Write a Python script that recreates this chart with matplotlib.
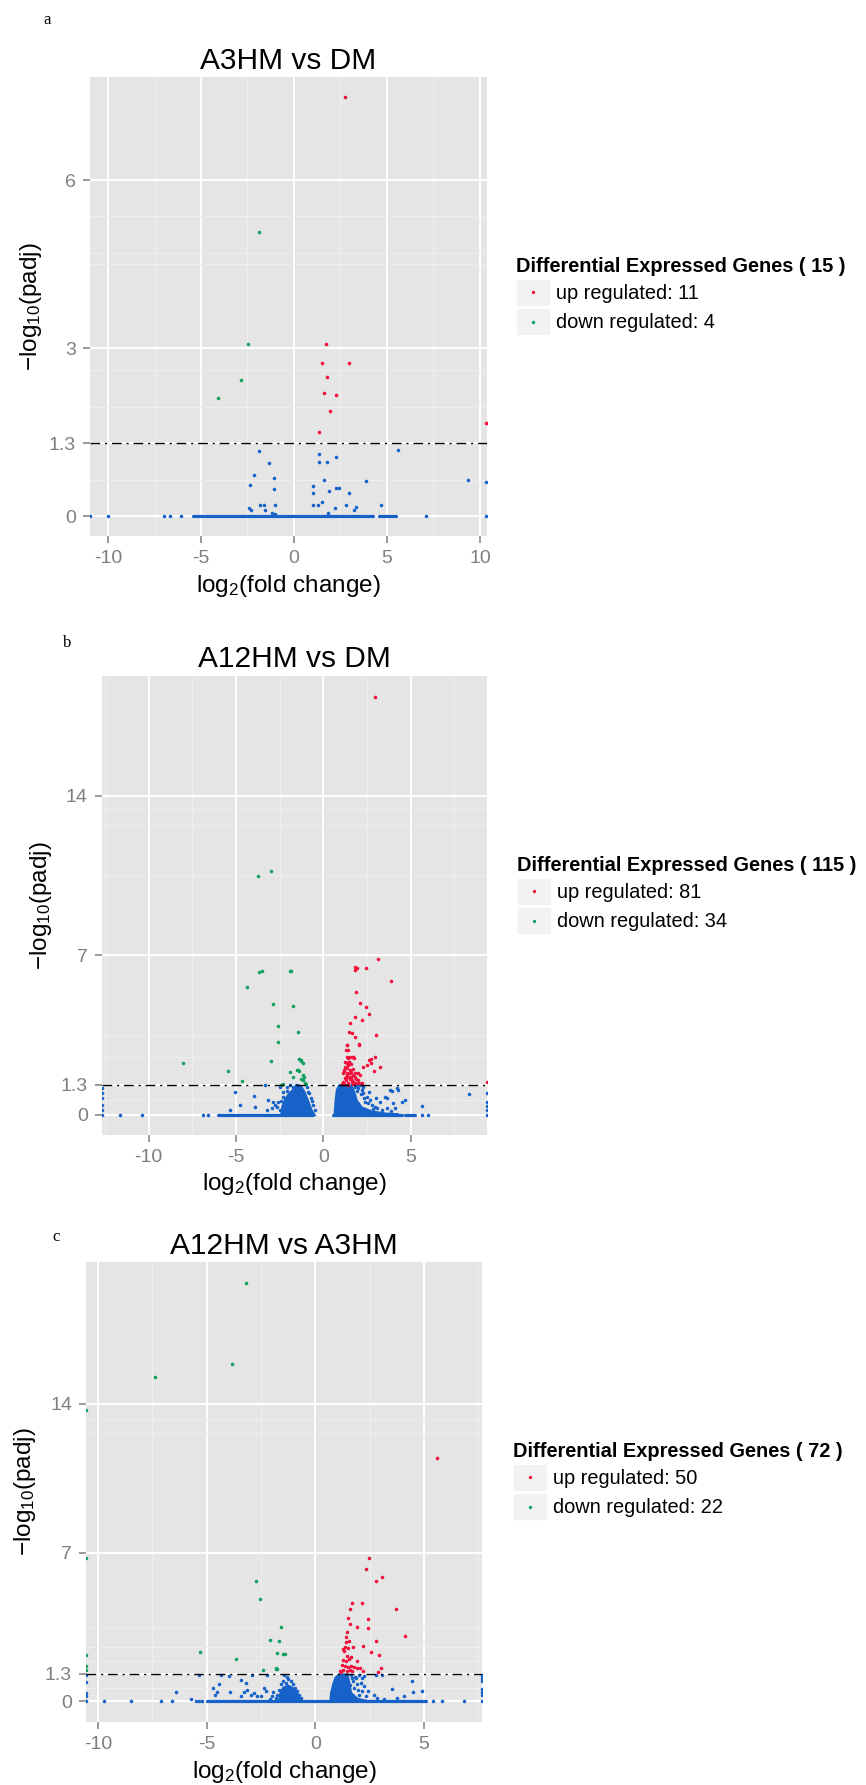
import matplotlib
matplotlib.use("Agg")

import matplotlib.pyplot as plt
from matplotlib.legend_handler import HandlerBase
from matplotlib.patches import Rectangle
from matplotlib.lines import Line2D

plt.rcParams.update({
    "font.family": "Liberation Sans",
    "mathtext.fontset": "custom",
    "mathtext.rm": "Liberation Sans",
    "mathtext.it": "Liberation Sans:italic",
    "mathtext.bf": "Liberation Sans:bold",
    "axes.unicode_minus": False,
})

RED = "#F0103C"
GREEN = "#12A060"
BLUE = "#1662C8"

# ===================== data: panel a (A3HM vs DM) =====================
a_up_x = [2.74, 1.74, 1.50, 2.94, 1.75, 1.63, 2.28, 1.94, 1.36, 10.32, 10.36]
a_up_y = [7.48, 3.08, 2.74, 2.74, 2.48, 2.19, 2.17, 1.88, 1.50, 1.67, 1.67]
a_down_x = [-1.88, -2.47, -2.87, -4.07]
a_down_y = [5.07, 3.08, 2.43, 2.10]
a_ns_x = [-1.86, -1.33, -2.15, -2.35, -1.08, -1.08, -2.40, -2.33, -1.85, -1.62,
          -1.55, -1.17, -1.03, -1.00, 1.36, 1.33, 1.76, 2.26, 1.63, 1.04,
          1.04, 1.89, 2.26, 2.40, 2.95, 3.85, 1.00, 1.29, 1.50, 2.22,
          2.80, 3.25, 3.35, 1.85, 4.70, 5.57, 9.37, 10.32]
a_ns_y = [1.16, 0.94, 0.73, 0.56, 0.68, 0.48, 0.15, 0.10, 0.20, 0.20,
          0.10, 0.05, 0.19, 0.03, 1.10, 0.96, 0.96, 1.06, 0.64, 0.53,
          0.41, 0.45, 0.50, 0.51, 0.41, 0.63, 0.19, 0.19, 0.25, 0.15,
          0.20, 0.10, 0.17, 0.05, 0.19, 1.18, 0.65, 0.61]
a_zero_x = [-10.97, -10.0, -6.97, -6.67, -6.09, 7.08, 10.32]
a_band_lo = [-5.45, -4.78, 4.59]
a_band_hi = [-4.88, 4.27, 5.48]
a_core_x = []
a_core_y = []
a_core2_x = []
a_core2_y = []

# ===================== data: panel b (A12HM vs DM) =====================
b_up_x = [2.96, 3.13, 1.83, 1.91, 1.80, 2.44, 3.88, 1.89, 2.10, 2.46,
          2.60, 1.80, 2.20, 1.53, 1.49, 1.62, 3.00, 1.80, 1.37, 2.04,
          1.30, 1.42, 1.34, 1.53, 1.72, 2.71, 2.96, 1.43, 1.68, 1.76,
          1.24, 1.34, 1.43, 1.15, 1.34, 1.53, 1.72, 1.24, 1.53, 1.81,
          1.11, 1.43, 1.72, 2.00, 2.20, 2.29, 2.48, 2.71, 2.63, 3.25,
          2.90, 2.10, 2.00, 9.35, 1.18, 1.57, 1.30, 1.62, 1.87, 1.43,
          1.05, 1.72, 2.06, 1.49, 1.34, 1.68, 1.37, 1.81, 1.20, 1.30,
          1.40, 1.60, 1.65, 1.90, 1.25, 1.45, 1.60, 1.18, 1.55, 2.06,
          1.37]
b_up_y = [18.34, 6.83, 6.48, 6.45, 6.34, 6.45, 5.86, 5.37, 4.91, 4.71,
          4.40, 4.28, 4.15, 4.02, 3.62, 3.58, 3.51, 3.39, 3.07, 3.07,
          2.83, 2.83, 2.51, 2.51, 2.51, 2.44, 2.51, 2.47, 2.54, 2.47,
          2.10, 2.03, 2.18, 1.81, 1.74, 1.81, 1.74, 1.59, 1.55, 1.66,
          1.44, 1.40, 1.44, 1.52, 1.37, 2.10, 2.18, 2.25, 2.40, 2.10,
          1.93, 1.74, 1.81, 1.42, 1.93, 1.88, 1.66, 1.52, 1.55, 1.30,
          1.34, 1.34, 1.40, 2.32, 2.25, 1.99, 1.81, 1.84, 1.35, 1.50,
          1.65, 1.65, 1.45, 1.40, 2.30, 2.30, 2.20, 1.95, 1.95, 3.08,
          3.05]
b_down_x = [-3.75, -3.01, -3.66, -3.53, -1.91, -1.85, -4.35, -2.90, -1.72, -2.61,
            -1.47, -2.58, -1.37, -8.03, -5.44, -4.64, -2.99, -2.44, -1.89, -1.49,
            -1.37, -1.39, -1.28, -1.18, -1.72, -1.18, -1.10, -1.05, -0.99, -1.30,
            -1.25, -2.30, -1.15, -1.42]
b_down_y = [10.48, 10.69, 6.28, 6.31, 6.31, 6.31, 5.59, 4.87, 4.75, 3.89,
            3.62, 3.20, 2.44, 2.25, 1.91, 1.47, 2.34, 1.31, 1.87, 1.96,
            1.91, 2.43, 2.37, 2.28, 1.64, 1.74, 1.64, 1.40, 1.33, 2.40,
            1.55, 1.33, 1.50, 1.95]
b_ns_x = [-12.68, -12.68, -12.68, -12.68, -12.68, 9.39, 9.39, 9.39, 9.39, 8.36,
          -5.34, -4.77, -5.07, -3.97, -3.93, -3.34, -3.15, -2.86, -3.24, -2.95,
          -2.67, -2.48, -2.32, -2.29, -2.58, -2.76, -2.10, -1.91, -0.95, -0.86,
          -0.72, -0.57, -0.48, -2.19, -2.48, 1.81, 2.00, 2.20, 2.29, 2.48,
          2.67, 2.39, 2.77, 2.96, 3.25, 3.53, 3.82, 4.20, 4.29, 4.49,
          4.68, 4.01, 4.10, 3.63, 3.34, 3.86, 2.29, 2.10, 1.91, 5.63,
          3.92, 3.63, -2.40, -2.05, -1.75, -1.55, -0.80, -0.62, 1.95, 2.15,
          2.35, 2.55, 2.85, 3.10, 2.60, 3.00]
b_ns_y = [1.15, 0.93, 0.72, 0.42, 0.20, 0.93, 0.57, 0.37, 0.20, 0.89,
          0.20, 0.42, 1.00, 0.82, 0.32, 1.30, 0.64, 0.57, 0.20, 0.28,
          0.35, 1.22, 1.00, 0.79, 0.57, 0.42, 1.22, 1.30, 1.22, 1.00,
          0.72, 0.42, 0.20, 0.28, 0.20, 1.22, 1.15, 1.08, 0.93, 0.79,
          0.64, 0.57, 0.42, 0.35, 0.57, 0.79, 1.08, 1.15, 1.08, 0.57,
          0.64, 0.49, 0.28, 0.28, 0.20, 0.17, 1.22, 1.30, 1.30, 0.37,
          1.04, 0.72, 0.60, 1.05, 1.20, 1.30, 0.95, 0.60, 1.05, 0.90,
          0.75, 0.50, 0.25, 0.30, 1.00, 0.75]
b_zero_x = [-12.68, -11.64, -10.40, -6.87, -6.58, 5.63, 6.01, 9.39]
b_band_lo = [-6.01, 0.57, 4.68]
b_band_hi = [-0.57, 4.49, 5.25]
b_core_x = [-2.38, -2.32, -2.19, -2.00, -1.81, -1.62, -1.43, -1.28, -1.10, -0.95, -0.80, -0.66, -0.53]
b_core_y = [0.0, 0.35, 0.62, 0.85, 1.00, 1.15, 1.27, 1.22, 1.00, 0.72, 0.42, 0.15, 0.0]
b_core2_x = [0.67, 0.73, 0.80, 0.92, 1.60, 1.75, 1.90, 2.20, 2.80, 3.60, 4.30]
b_core2_y = [0.0, 0.64, 1.08, 1.27, 1.27, 1.00, 0.62, 0.30, 0.12, 0.03, 0.0]

# ===================== data: panel c (A12HM vs A3HM) =====================
c_up_x = [5.59, 2.46, 2.33, 2.79, 3.06, 3.71, 1.70, 2.16, 1.58, 2.44,
          2.43, 1.58, 1.93, 1.45, 1.41, 4.11, 2.78, 1.41, 1.36, 1.48,
          1.29, 1.75, 2.18, 2.58, 2.92, 1.25, 1.40, 1.55, 1.63, 1.93,
          1.22, 1.37, 1.52, 1.63, 1.78, 1.93, 2.06, 1.14, 1.29, 1.45,
          1.60, 3.01, 1.33, 1.45, 1.70, 1.20, 2.90, 1.55, 1.52, 2.20]
c_up_y = [11.44, 6.75, 6.24, 5.66, 5.84, 4.33, 4.62, 4.62, 4.34, 3.87,
          3.46, 3.66, 3.49, 3.27, 3.05, 3.07, 2.82, 2.77, 2.55, 2.50,
          2.46, 2.55, 2.61, 2.30, 2.20, 1.96, 1.92, 1.99, 2.08, 1.88,
          1.72, 1.67, 1.64, 1.67, 1.61, 1.57, 1.55, 1.45, 1.49, 1.41,
          1.49, 1.57, 2.35, 2.15, 1.45, 1.36, 1.40, 2.85, 3.90, 1.45]
c_down_x = [-3.19, -3.85, -7.38, -10.55, -10.55, -2.74, -2.54, -1.56, -2.08, -1.67,
            -1.75, -1.47, -1.38, -5.31, -3.65, -2.39, -1.82, -1.75, -10.55, -10.55,
            -10.55, -1.79]
c_down_y = [19.66, 15.89, 15.27, 13.70, 6.75, 5.68, 4.81, 3.49, 2.90, 2.86,
            2.27, 2.24, 2.25, 2.30, 2.00, 1.49, 1.52, 1.52, 2.19, 1.67,
            1.49, 1.55]
c_ns_x = [-10.55, -10.55, -10.55, -10.55, 7.68, 7.68, 7.68, 7.68, 7.68, 7.68,
          -6.43, -5.73, -5.35, -4.69, -4.43, -4.63, -4.51, -4.35, -3.96, -3.94,
          -3.43, -3.28, -3.13, -2.97, -2.82, -2.67, -2.90, -3.20, -2.36, -2.28,
          -2.51, -2.24, -3.43, -1.44, -1.32, -1.26, -1.50, -1.13, -1.01, -1.59,
          -1.36, -0.93, -0.83, -1.67, -1.75, -1.82, -0.75, -0.67, -2.00, -1.95,
          -2.10, 1.63, 1.81, 2.01, 2.16, 1.71, 1.91, 2.09, 2.24, 1.78,
          1.96, 2.16, 2.40, 2.01, 2.32, 2.70, 2.78, 3.08, 3.54, 4.46,
          4.51, 4.92, 4.08, 3.16, 2.85, 3.77, 1.86, 1.60, 2.25, 1.70]
c_ns_y = [1.25, 0.90, 0.39, 0.24, 1.25, 1.10, 0.95, 0.60, 0.45, 0.30,
          0.44, 0.12, 1.25, 0.65, 0.83, 0.31, 0.42, 1.25, 1.20, 0.42,
          0.23, 0.42, 0.55, 0.31, 0.39, 0.23, 1.25, 0.86, 0.63, 0.47,
          0.23, 1.25, 1.02, 1.25, 1.17, 1.05, 0.98, 0.94, 0.83, 0.83,
          0.86, 0.63, 0.47, 0.55, 0.31, 0.16, 0.31, 0.16, 0.23, 0.42,
          0.12, 1.25, 1.17, 1.25, 1.10, 0.94, 0.83, 0.86, 0.70, 0.63,
          0.55, 0.47, 0.47, 0.31, 0.26, 0.31, 1.25, 1.25, 0.58, 0.94,
          0.42, 0.51, 0.23, 0.11, 0.16, 0.16, 1.10, 0.78, 1.20, 1.10]
c_zero_x = [-10.55, -9.72, -8.47, -7.09, -6.58, -5.50, -5.35, -5.20, 5.43, 5.82, 6.84, 7.68]
c_band_lo = [-5.00]
c_band_hi = [5.08]
c_core_x = [-1.67, -1.59, -1.47, -1.26, -1.06, -0.86, -0.67]
c_core_y = [0.0, 0.39, 0.63, 0.73, 0.63, 0.39, 0.0]
c_core2_x = [0.71, 0.74, 0.83, 0.94, 1.09, 1.47, 1.55, 1.63, 1.93, 2.40]
c_core2_y = [0.0, 0.39, 0.78, 1.10, 1.25, 1.25, 0.86, 0.39, 0.11, 0.0]

titles = ["A3HM vs DM", "A12HM vs DM", "A12HM vs A3HM"]
n_up = [11, 81, 50]
n_down = [4, 34, 22]

# ===================== panel setup =====================
W, H = 866, 1785

panels = [
    dict(letter="a", title=titles[0], up=(a_up_x, a_up_y), down=(a_down_x, a_down_y),
         ns=(a_ns_x, a_ns_y), zero=a_zero_x, band=(a_band_lo, a_band_hi),
         cores=[(a_core_x, a_core_y), (a_core2_x, a_core2_y)],
         xlim=(-10.97, 10.38), ylim=(-0.363, 7.84),
         xticks=[-10, -5, 0, 5, 10], yticks=[0, 1.3, 3, 6],
         xminor=[-7.5, -2.5, 2.5, 7.5], yminor=[0.65, 1.95, 2.6, 4.5, 4.7, 5.35],
         box=(90, 77, 487, 536.4), ylab_px=31, letter_px=(47, 20), legend_px=(516, 257)),
    dict(letter="b", title=titles[1], up=(b_up_x, b_up_y), down=(b_down_x, b_down_y),
         ns=(b_ns_x, b_ns_y), zero=b_zero_x, band=(b_band_lo, b_band_hi),
         cores=[(b_core_x, b_core_y), (b_core2_x, b_core2_y)],
         xlim=(-12.68, 9.39), ylim=(-0.89, 19.26),
         xticks=[-10, -5, 0, 5], yticks=[0, 1.3, 7, 14],
         xminor=[-12.5, -7.5, -2.5, 2.5, 7.5], yminor=[0.62, 2.54, 3.49, 10.53, 12.7, 13.4],
         box=(101.7, 675.7, 487.3, 1134.9), ylab_px=41, letter_px=(67, 643), legend_px=(517, 856)),
    dict(letter="c", title=titles[2], up=(c_up_x, c_up_y), down=(c_down_x, c_down_y),
         ns=(c_ns_x, c_ns_y), zero=c_zero_x, band=(c_band_lo, c_band_hi),
         cores=[(c_core_x, c_core_y), (c_core2_x, c_core2_y)],
         xlim=(-10.55, 7.68), ylim=(-0.97, 20.66),
         xticks=[-10, -5, 0, 5], yticks=[0, 1.3, 7, 14],
         xminor=[-7.5, -2.5, 2.5, 7.5], yminor=[0.62, 1.92, 2.55, 3.49, 12.64, 13.28],
         box=(86, 1262.2, 482.3, 1722), ylab_px=25, letter_px=(56, 1237), legend_px=(513, 1442)),
]


class KeyHandler(HandlerBase):
    # ggplot-like legend key: grey square with a small dot in the middle
    def create_artists(self, legend, orig_handle, xdescent, ydescent,
                       width, height, fontsize, trans):
        bg = Rectangle((-xdescent, -ydescent), width, height,
                       facecolor="#F2F2F2", edgecolor="white", lw=0.6,
                       transform=trans)
        dot = Line2D([-xdescent + width / 2], [-ydescent + height / 2],
                     marker="o", ms=2.4, mew=0, color=orig_handle.get_color(),
                     ls="none", transform=trans)
        return [bg, dot]


def volcano(fig, p, i):
    x0, y0, x1, y1 = p["box"]
    ax = fig.add_axes([x0 / W, 1 - y1 / H, (x1 - x0) / W, (y1 - y0) / H])
    ax.set_facecolor("#E5E5E5")
    for s in ax.spines.values():
        s.set_visible(False)

    ax.set_xlim(p["xlim"])
    ax.set_ylim(p["ylim"])
    ax.set_xticks(p["xticks"])
    ax.set_xticklabels([str(t) for t in p["xticks"]])
    ax.set_yticks(p["yticks"])
    ax.set_yticklabels([f"{t:g}" for t in p["yticks"]])
    ax.set_xticks(p["xminor"], minor=True)
    ax.set_yticks(p["yminor"], minor=True)
    ax.grid(True, which="major", color="white", lw=1.4)
    ax.grid(True, which="minor", color="#F0F0F0", lw=0.6)
    ax.set_axisbelow(True)
    ax.tick_params(which="major", length=5, width=1.1, color="#7F7F7F",
                   labelcolor="#7F7F7F", labelsize=14, pad=5)
    ax.tick_params(which="minor", length=0)

    # dense not-significant genes
    for lo, hi in zip(*p["band"]):
        ax.plot([lo, hi], [0, 0], color=BLUE, lw=2.3, solid_capstyle="round", zorder=2)
    for cx, cy in p["cores"]:
        if cx:
            ax.fill(cx, cy, color=BLUE, lw=2.0, zorder=2)
    ax.scatter(p["zero"], [0] * len(p["zero"]), s=6.5, color=BLUE, linewidths=0, zorder=2)
    ax.scatter(*p["ns"], s=6.5, color=BLUE, linewidths=0, zorder=2)
    ax.scatter(*p["up"], s=6.5, color=RED, linewidths=0, zorder=3)
    ax.scatter(*p["down"], s=6.5, color=GREEN, linewidths=0, zorder=3)

    ax.axhline(1.3, color="black", lw=1.0, ls=(0, (7, 3.5, 1.5, 3.5)), zorder=4)

    ax.set_title(p["title"], fontsize=21.5, pad=6)
    ax.set_xlabel(r"$\mathregular{log_2(fold\ change)}$", fontsize=17.5, va="center")
    ax.xaxis.set_label_coords(0.5, -49.5 / (y1 - y0))
    ax.set_ylabel(r"$\mathregular{-log_{10}(padj)}$", fontsize=17.5, va="center")
    ax.yaxis.set_label_coords((p["ylab_px"] - x0) / (x1 - x0), 0.5)

    lx, ly = p["letter_px"]
    fig.text(lx / W, 1 - ly / H, p["letter"], family="Liberation Serif",
             fontsize=12, ha="center", va="center")

    handles = [Line2D([], [], color=RED, label=f"up regulated: {n_up[i]}"),
               Line2D([], [], color=GREEN, label=f"down regulated: {n_down[i]}")]
    gx, gy = p["legend_px"]
    fig.legend(handles=handles, loc="upper left",
               bbox_to_anchor=(gx / W, 1 - gy / H),
               title=f"Differential Expressed Genes ( {n_up[i] + n_down[i]} )",
               title_fontproperties={"weight": "bold", "size": 14.4},
               fontsize=14.4, frameon=False, alignment="left",
               handler_map={Line2D: KeyHandler()},
               handlelength=1.7, handleheight=1.7, handletextpad=0.3,
               labelspacing=0.13, borderpad=0, borderaxespad=0)
    return ax


fig = plt.figure(figsize=(W / 100, H / 100), dpi=100)
for i, p in enumerate(panels):
    volcano(fig, p, i)

plt.savefig("out.png", dpi=100)
plt.close()
